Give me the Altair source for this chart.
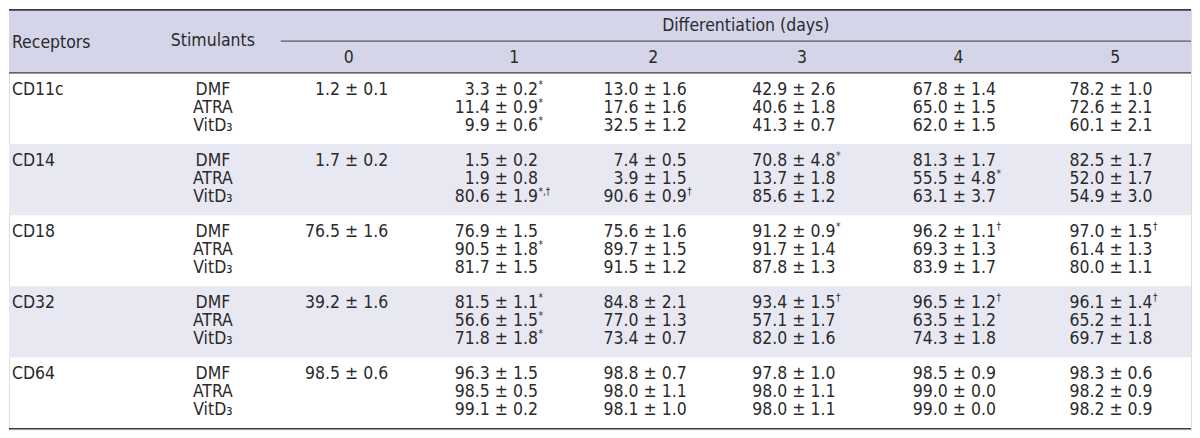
import altair as alt
import pandas as pd

# ---------------- data ----------------
receptors = ["CD11c", "CD14", "CD18", "CD32", "CD64"]
stimulants = ["DMF", "ATRA", "VitD\u2083"]
days = ["0", "1", "2", "3", "4", "5"]
group_title = "Differentiation (days)"
col_receptor = "Receptors"
col_stimulant = "Stimulants"

day0_values = ["1.2 \u00b1 0.1", "1.7 \u00b1 0.2", "76.5 \u00b1 1.6", "39.2 \u00b1 1.6", "98.5 \u00b1 0.6"]

# values for days 1..5, per receptor, per stimulant (DMF, ATRA, VitD3)
cd11c_values = [
    ["3.3 \u00b1 0.2", "13.0 \u00b1 1.6", "42.9 \u00b1 2.6", "67.8 \u00b1 1.4", "78.2 \u00b1 1.0"],
    ["11.4 \u00b1 0.9", "17.6 \u00b1 1.6", "40.6 \u00b1 1.8", "65.0 \u00b1 1.5", "72.6 \u00b1 2.1"],
    ["9.9 \u00b1 0.6", "32.5 \u00b1 1.2", "41.3 \u00b1 0.7", "62.0 \u00b1 1.5", "60.1 \u00b1 2.1"],
]
cd11c_marks = [["*", "", "", "", ""], ["*", "", "", "", ""], ["*", "", "", "", ""]]

cd14_values = [
    ["1.5 \u00b1 0.2", "7.4 \u00b1 0.5", "70.8 \u00b1 4.8", "81.3 \u00b1 1.7", "82.5 \u00b1 1.7"],
    ["1.9 \u00b1 0.8", "3.9 \u00b1 1.5", "13.7 \u00b1 1.8", "55.5 \u00b1 4.8", "52.0 \u00b1 1.7"],
    ["80.6 \u00b1 1.9", "90.6 \u00b1 0.9", "85.6 \u00b1 1.2", "63.1 \u00b1 3.7", "54.9 \u00b1 3.0"],
]
cd14_marks = [["", "", "*", "", ""], ["", "", "", "*", ""], ["*,\u2020", "\u2020", "", "", ""]]

cd18_values = [
    ["76.9 \u00b1 1.5", "75.6 \u00b1 1.6", "91.2 \u00b1 0.9", "96.2 \u00b1 1.1", "97.0 \u00b1 1.5"],
    ["90.5 \u00b1 1.8", "89.7 \u00b1 1.5", "91.7 \u00b1 1.4", "69.3 \u00b1 1.3", "61.4 \u00b1 1.3"],
    ["81.7 \u00b1 1.5", "91.5 \u00b1 1.2", "87.8 \u00b1 1.3", "83.9 \u00b1 1.7", "80.0 \u00b1 1.1"],
]
cd18_marks = [["", "", "*", "\u2020", "\u2020"], ["*", "", "", "", ""], ["", "", "", "", ""]]

cd32_values = [
    ["81.5 \u00b1 1.1", "84.8 \u00b1 2.1", "93.4 \u00b1 1.5", "96.5 \u00b1 1.2", "96.1 \u00b1 1.4"],
    ["56.6 \u00b1 1.5", "77.0 \u00b1 1.3", "57.1 \u00b1 1.7", "63.5 \u00b1 1.2", "65.2 \u00b1 1.1"],
    ["71.8 \u00b1 1.8", "73.4 \u00b1 0.7", "82.0 \u00b1 1.6", "74.3 \u00b1 1.8", "69.7 \u00b1 1.8"],
]
cd32_marks = [["*", "", "\u2020", "\u2020", "\u2020"], ["*", "", "", "", ""], ["*", "", "", "", ""]]

cd64_values = [
    ["96.3 \u00b1 1.5", "98.8 \u00b1 0.7", "97.8 \u00b1 1.0", "98.5 \u00b1 0.9", "98.3 \u00b1 0.6"],
    ["98.5 \u00b1 0.5", "98.0 \u00b1 1.1", "98.0 \u00b1 1.1", "99.0 \u00b1 0.0", "98.2 \u00b1 0.9"],
    ["99.1 \u00b1 0.2", "98.1 \u00b1 1.0", "98.0 \u00b1 1.1", "99.0 \u00b1 0.0", "98.2 \u00b1 0.9"],
]
cd64_marks = [["", "", "", "", ""], ["", "", "", "", ""], ["", "", "", "", ""]]

all_values = [cd11c_values, cd14_values, cd18_values, cd32_values, cd64_values]
all_marks = [cd11c_marks, cd14_marks, cd18_marks, cd32_marks, cd64_marks]

# ---------------- layout (reference pixel space 1200 x 438) ----------------
W, H = 1200, 438
FONT = "'Liberation Sans Narrow', 'DejaVu Sans Condensed', 'Liberation Sans', sans-serif"
FS = 17.5
HEADER_BG = "#d5d5e9"
BAND_BG = "#e8e8f3"
LINE = "#3a3a3a"
TXT = "#2a2a2a"

header_bottom = 66
group_h = 74
row_step = 18.6
receptor_x = 3
stim_x = 207
day_center = [345, 513, 654, 805, 964, 1123]
day_right = [385, 537, 688, 839, 1002, 1161]

xs = alt.Scale(domain=[0, W], nice=False, zero=False)
ys = alt.Scale(domain=[0, H], nice=False, zero=False, reverse=True)

def X(f="x"):
    return alt.X(f"{f}:Q", scale=xs, axis=None)

def Y(f="y"):
    return alt.Y(f"{f}:Q", scale=ys, axis=None)

# rectangles
rect_rows = [{"x": 0, "x2": W, "y": 0, "y2": header_bottom, "c": HEADER_BG}]
for g in range(len(receptors)):
    if g % 2 == 1:
        top = header_bottom + g * group_h
        rect_rows.append({"x": 0, "x2": W, "y": top, "y2": top + group_h, "c": BAND_BG})
rects = alt.Chart(pd.DataFrame(rect_rows)).mark_rect().encode(
    x=X(), x2="x2:Q", y=Y(), y2="y2:Q", color=alt.Color("c:N", scale=None)
)

# lines
line_rows = [
    {"x": 0, "x2": W, "y": 0.5, "w": 1.6},
    {"x": 276, "x2": W, "y": 33, "w": 1.0},
    {"x": 0, "x2": W, "y": header_bottom, "w": 1.4},
    {"x": 0, "x2": W, "y": H - 2, "w": 1.4},
]
lines = alt.Chart(pd.DataFrame(line_rows)).mark_rule(color=LINE).encode(
    x=X(), x2="x2:Q", y=Y(), strokeWidth=alt.StrokeWidth("w:Q", scale=None)
)

# header texts
hdr_rows = [
    {"x": receptor_x, "y": 35, "t": col_receptor, "a": "left"},
    {"x": stim_x, "y": 33, "t": col_stimulant, "a": "center"},
    {"x": 748, "y": 17, "t": group_title, "a": "center"},
]
for d, cx in zip(days, day_center):
    hdr_rows.append({"x": cx, "y": 51, "t": d, "a": "center"})
hdr_df = pd.DataFrame(hdr_rows)

def text_layer(df, align):
    return alt.Chart(df[df["a"] == align]).mark_text(
        align=align, baseline="middle", font=FONT, fontSize=FS, color=TXT
    ).encode(x=X(), y=Y(), text="t:N")

headers = [text_layer(hdr_df, "left"), text_layer(hdr_df, "center")]

# body texts
body_rows = []
sup_rows = []
for g, rec in enumerate(receptors):
    top = header_bottom + g * group_h
    for i, stim in enumerate(stimulants):
        y = top + row_step * (i + 1) - 1
        if i == 0:
            body_rows.append({"x": receptor_x, "y": y, "t": rec, "a": "left"})
            body_rows.append({"x": day_right[0], "y": y, "t": day0_values[g], "a": "right"})
        body_rows.append({"x": stim_x, "y": y, "t": stim, "a": "center"})
        for d in range(5):
            body_rows.append({"x": day_right[d + 1], "y": y, "t": all_values[g][i][d], "a": "right"})
            m = all_marks[g][i][d]
            if m:
                sup_rows.append({"x": day_right[d + 1] + 0.5, "y": y - 5, "t": m})
body_df = pd.DataFrame(body_rows)
body = [text_layer(body_df, "left"), text_layer(body_df, "center"), text_layer(body_df, "right")]

sups = alt.Chart(pd.DataFrame(sup_rows)).mark_text(
    align="left", baseline="middle", font=FONT, fontSize=10, color=TXT
).encode(x=X(), y=Y(), text="t:N")

chart = alt.layer(rects, lines, *headers, *body, sups).properties(
    width=1184, height=422, padding=0
).configure_view(strokeWidth=0).configure(background="white")

chart.save("out.html", embed_options={"renderer": "svg", "actions": False})
